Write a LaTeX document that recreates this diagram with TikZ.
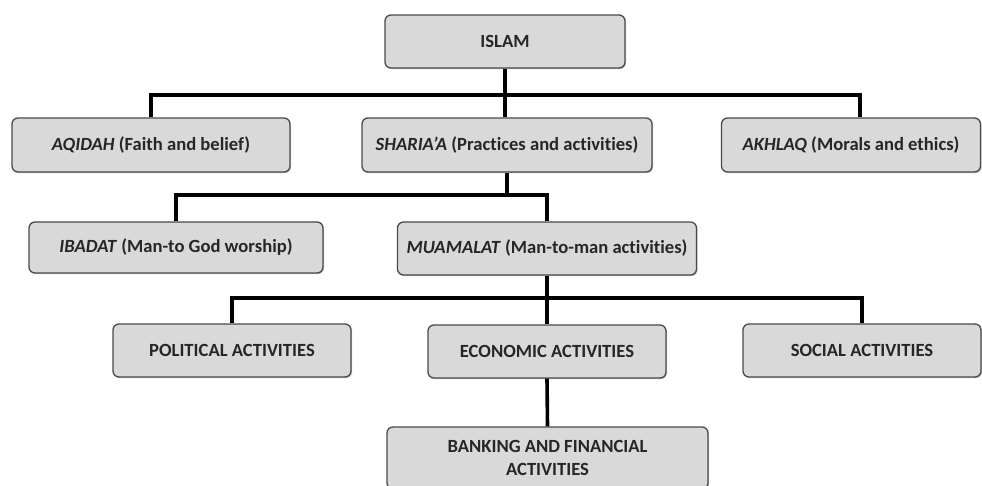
\documentclass[tikz,border=0pt]{standalone}
\usepackage{fontspec}
\setmainfont{Carlito}[Ligatures=NoCommon]
\usetikzlibrary{shadows}
\definecolor{boxfill}{HTML}{D9D9D9}
\definecolor{boxline}{HTML}{4A4A4A}
\definecolor{textcol}{HTML}{262626}
\begin{document}
\begin{tikzpicture}
    [
        x=1pt, y=-1pt,
        box/.style={draw=boxline, fill=boxfill, rounded corners=6pt, line width=1.3pt,
            drop shadow={shadow xshift=1pt, shadow yshift=-1.2pt, opacity=0.45},
            text=textcol, inner sep=0pt, font=\bfseries\fontsize{18.6}{23}\selectfont},
        link/.style={line width=3.6pt, line join=miter, black},
    ]
        \useasboundingbox (0,0) rectangle (982,486);

        % top level
        \node[box, minimum width=240pt, minimum height=53pt] (islam) at (505,41.5) {ISLAM};

        \node[box, minimum width=278pt, minimum height=54pt] (aqidah) at (151,145) {\textit{AQIDAH} (Faith and belief)};
        \node[box, minimum width=290pt, minimum height=54pt] (sharia) at (507,145) {\textit{SHARIA'A} (Practices and activities)};
        \node[box, minimum width=259pt, minimum height=54pt] (akhlaq) at (851,145) {\textit{AKHLAQ} (Morals and ethics)};

        % second level
        \node[box, minimum width=294pt, minimum height=51pt] (ibadat) at (176,247.5) {\textit{IBADAT} (Man-to God worship)};
        \node[box, minimum width=299pt, minimum height=53pt] (muamalat) at (547,248.5) {\textit{MUAMALAT} (Man-to-man activities)};

        % third level
        \node[box, minimum width=238pt, minimum height=53pt] (political) at (232,350.5) {POLITICAL ACTIVITIES};
        \node[box, minimum width=238pt, minimum height=53pt] (economic) at (547,351.5) {ECONOMIC ACTIVITIES};
        \node[box, minimum width=238pt, minimum height=53pt] (social) at (862,350.5) {SOCIAL ACTIVITIES};

        \node[box, minimum width=321pt, minimum height=62pt, align=center] (banking) at (547.5,458) {BANKING AND FINANCIAL\\ACTIVITIES};

        % connectors
        \coordinate (j1) at (505,95);
        \coordinate (j2) at (507,195);
        \coordinate (j3) at (547,298);

        \draw[link] (islam.south) -- (j1);
        \draw[link] (aqidah.north) |- (j1);
        \draw[link] (j1) -| ([xshift=9pt]akhlaq.north);
        \draw[link] (j1) -- (sharia.north -| j1);

        \draw[link] (sharia.south) -- (j2);
        \draw[link] (ibadat.north) |- (j2);
        \draw[link] (j2) -| (muamalat.north);

        \draw[link] (muamalat.south) -- (j3);
        \draw[link] (political.north) |- (j3);
        \draw[link] (j3) -| (social.north);
        \draw[link] (j3) -- (economic.north);
        \draw[link] (economic.south) -- (banking.north);
\end{tikzpicture}
\end{document}
